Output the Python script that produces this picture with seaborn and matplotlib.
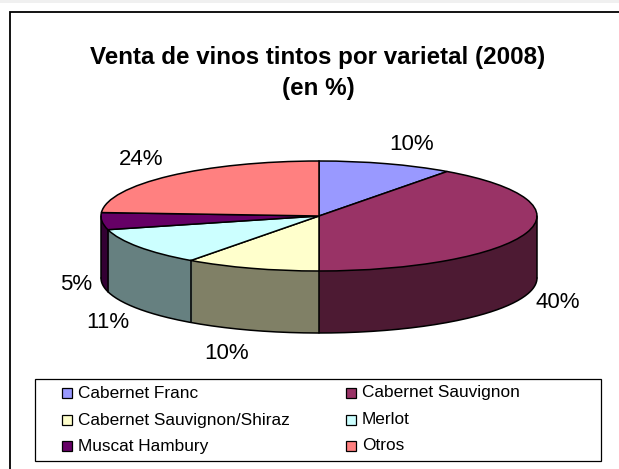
import numpy as np
import pandas as pd
import seaborn as sns
import matplotlib.pyplot as plt
from matplotlib.patches import Rectangle

varietals = ["Cabernet Franc", "Cabernet Sauvignon", "Cabernet Sauvignon/Shiraz",
             "Merlot", "Muscat Hambury", "Otros"]
shares = [10, 40, 10, 11, 5, 24]
share_labels = ["10%", "40%", "10%", "11%", "5%", "24%"]
top_colors = ["#9999ff", "#993366", "#ffffcc", "#ccffff", "#660066", "#ff8080"]
side_colors = ["#5c5c99", "#4d1a33", "#808066", "#668080", "#330033", "#994d4d"]
title_text = "Venta de vinos tintos por varietal (2008)\n(en %)"

W, H = 619, 469
CX, CY = 319, 216
RX, RY = 218, 55
DEPTH = 62

sns.set_theme(style="white")
plt.rcParams['font.family'] = ['Liberation Sans', 'DejaVu Sans']

df = pd.DataFrame({"varietal": varietals, "share": shares})

fig = plt.figure(figsize=(W / 100, H / 100), dpi=100)
fig.patch.set_facecolor("white")


def px_axes():
    # full figure axes in image pixels, y going down
    a = fig.add_axes([0, 0, 1, 1], facecolor="none")
    a.set_xlim(0, W)
    a.set_ylim(H, 0)
    a.axis("off")
    return a


bg = px_axes()
bg.add_patch(Rectangle((0, 0), W, 3, fc="#f0f0f0", ec="none"))
# frame runs off the right and bottom of the picture
bg.add_patch(Rectangle((10, 12.5), 700, 500, fc="white", ec="black", lw=1.3))

# pie axes sized so that a unit circle comes out as the flat ellipse
pie_ax = fig.add_axes([0, 0, 1, 1], facecolor="none")


def draw_layer(colors, dy, **kw):
    pie_ax.pie(df["share"], colors=colors, startangle=90, counterclock=False,
               radius=1, center=(0, -dy / RY), **kw)


for dy in np.arange(DEPTH, 0, -1.0):
    draw_layer(side_colors, dy, wedgeprops={"linewidth": 0})
draw_layer(top_colors, 0, wedgeprops={"linewidth": 1.1, "edgecolor": "black"})

pie_ax.set_aspect("auto")
pie_ax.set_xlim(-CX / RX, (W - CX) / RX)
pie_ax.set_ylim(-(H - CY) / RY, CY / RY)
pie_ax.axis("off")

# outline of the side wall and the edges between front slices
theta = np.radians(np.linspace(180, 360, 200))
pie_ax.plot(np.cos(theta), np.sin(theta) - DEPTH / RY, color="black", lw=1.1)
pie_ax.plot([1, 1], [0, -DEPTH / RY], color="black", lw=1.1)
pie_ax.plot([-1, -1], [0, -DEPTH / RY], color="black", lw=1.1)
ends = np.cumsum(df["share"].to_numpy()) / df["share"].sum()
for e in ends:
    ang = np.pi / 2 - 2 * np.pi * e
    if np.sin(ang) < 0:
        pie_ax.plot([np.cos(ang)] * 2, [np.sin(ang), np.sin(ang) - DEPTH / RY],
                    color="black", lw=1.1)

fg = px_axes()
fg.text(318, 73, title_text, ha="center", va="center", fontsize=17.4,
        fontweight="bold", color="black", linespacing=1.42)

label_pos = [(412, 144.5), (558, 303), (227, 353.5), (108, 322.5), (76, 284.5), (141, 159.5)]
for txt, (x, y) in zip(share_labels, label_pos):
    fg.text(x, y, txt, ha="center", va="center", fontsize=16, color="black")

# legend box
fg.add_patch(Rectangle((34.5, 379), 566.5, 82, fc="white", ec="black", lw=0.9))
leg_x = [62, 346]
leg_y = [393, 420, 446]
for i, name in enumerate(df["varietal"]):
    x, y = leg_x[i % 2], leg_y[i // 2]
    fg.add_patch(Rectangle((x, y - 5), 10, 10, fc=top_colors[i], ec="black", lw=0.9))
    fg.text(x + 16, y, name, ha="left", va="center", fontsize=12.4, color="black")

fig.savefig("out.png", dpi=100, facecolor=fig.get_facecolor())
